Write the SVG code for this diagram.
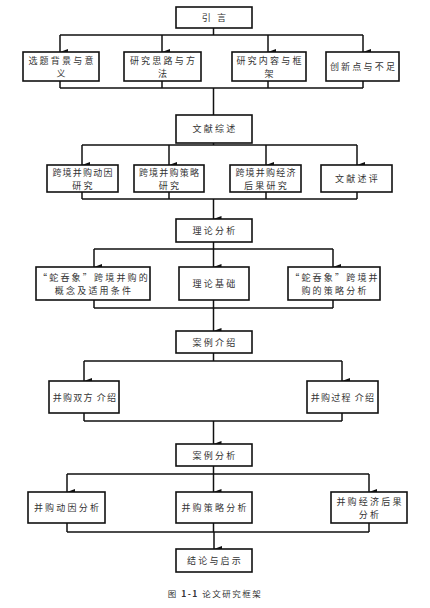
<svg xmlns="http://www.w3.org/2000/svg" width="430" height="608" viewBox="0 0 430 608">
<style>
.b{fill:#fff;stroke:#111;stroke-width:1.6}
.t{font-family:"Noto Sans CJK SC","Liberation Serif",serif;font-size:9px;fill:#333;text-anchor:middle;letter-spacing:2.2px}
.n{letter-spacing:1.2px}
.l{fill:none;stroke:#111;stroke-width:1.5}
.cap{font-family:"Noto Sans CJK SC","Liberation Serif",serif;font-size:8.5px;fill:#333;text-anchor:middle;letter-spacing:1.5px}
</style>
<defs>
<marker id="a" viewBox="0 0 6 8" refX="3" refY="8" markerWidth="6" markerHeight="8" markerUnits="userSpaceOnUse" orient="auto-start-reverse">
<path d="M0,0 L6,0 L3,8 Z" fill="#111"/>
</marker>
</defs>
<rect width="430" height="608" fill="#fff"/>
<g id="connectors">
<path class="l" d="M213.5,28 V35 M60,35 H363"/>
<path class="l" d="M60,35 V52" marker-end="url(#a)"/>
<path class="l" d="M162,35 V52" marker-end="url(#a)"/>
<path class="l" d="M268,35 V52" marker-end="url(#a)"/>
<path class="l" d="M363,35 V52" marker-end="url(#a)"/>
<path class="l" d="M60,81 V88 M162,81 V88 M268,81 V88 M363,81 V88 M60,88 H363 M213.5,88 V115"/>
<path class="l" d="M213.5,143 V145 M82,145 H357"/>
<path class="l" d="M82,145 V165" marker-end="url(#a)"/>
<path class="l" d="M169,145 V165" marker-end="url(#a)"/>
<path class="l" d="M266,145 V165" marker-end="url(#a)"/>
<path class="l" d="M357,145 V165" marker-end="url(#a)"/>
<path class="l" d="M82,192 V199 M169,192 V199 M266,192 V199 M357,192 V199 M82,199 H357"/>
<path class="l" d="M213.5,199 V219" marker-end="url(#a)"/>
<path class="l" d="M213.5,242 V249 M94,249 H333"/>
<path class="l" d="M94,249 V267" marker-end="url(#a)"/>
<path class="l" d="M213.5,249 V267" marker-end="url(#a)"/>
<path class="l" d="M333,249 V267" marker-end="url(#a)"/>
<path class="l" d="M94,300 V308 M213.5,300 V308 M333,300 V308 M94,308 H333"/>
<path class="l" d="M213.5,308 V331" marker-end="url(#a)"/>
<path class="l" d="M213.5,353 V361 M84,361 H342"/>
<path class="l" d="M84,361 V381" marker-end="url(#a)"/>
<path class="l" d="M342,361 V381" marker-end="url(#a)"/>
<path class="l" d="M84,413 V421 M342,413 V421 M84,421 H342"/>
<path class="l" d="M213.5,421 V444" marker-end="url(#a)"/>
<path class="l" d="M213.5,466 V474 M67,474 H369"/>
<path class="l" d="M67,474 V492" marker-end="url(#a)"/>
<path class="l" d="M213.5,474 V492" marker-end="url(#a)"/>
<path class="l" d="M369,474 V492" marker-end="url(#a)"/>
<path class="l" d="M67,523 V532 M369,523 V532 M67,532 H369 M213.5,523 V532"/>
<path class="l" d="M214,532 V549" marker-end="url(#a)"/>
</g>
<g id="n1"><rect class="b" x="176" y="7" width="76" height="21"/><text class="t" x="215" y="21">引 言</text></g>
<g id="n2"><rect class="b" x="23" y="52" width="76" height="29"/><text class="t" x="62" y="64">选题背景与意</text><text class="t" x="62" y="77">义</text></g>
<g id="n3"><rect class="b" x="124" y="52" width="77" height="29"/><text class="t" x="163.5" y="64">研究思路与方</text><text class="t" x="163.5" y="77">法</text></g>
<g id="n4"><rect class="b" x="232" y="52" width="74" height="29"/><text class="t" x="270" y="64">研究内容与框</text><text class="t" x="270" y="77">架</text></g>
<g id="n5"><rect class="b" x="326" y="52" width="73" height="29"/><text class="t" x="363.5" y="70">创新点与不足</text></g>
<g id="n6"><rect class="b" x="176" y="115" width="76" height="28"/><text class="t" x="215" y="132">文献综述</text></g>
<g id="n7"><rect class="b" x="47" y="165" width="71" height="27"/><text class="t n" x="83" y="176">跨境并购动因</text><text class="t" x="83.5" y="189">研究</text></g>
<g id="n8"><rect class="b" x="134" y="165" width="70" height="27"/><text class="t n" x="169.5" y="176">跨境并购策略</text><text class="t" x="170" y="189">研究</text></g>
<g id="n9"><rect class="b" x="230" y="165" width="71" height="27"/><text class="t n" x="266" y="176">跨境并购经济</text><text class="t" x="266.5" y="189">后果研究</text></g>
<g id="n10"><rect class="b" x="321" y="165" width="71" height="27"/><text class="t" x="357.5" y="182">文献述评</text></g>
<g id="n11"><rect class="b" x="176" y="219" width="76" height="23"/><text class="t" x="215" y="234">理论分析</text></g>
<g id="n12"><rect class="b" x="36" y="267" width="114" height="33"/><text class="t" x="94" y="281">“蛇吞象”跨境并购的</text><text class="t" x="94" y="294">概念及适用条件</text></g>
<g id="n13"><rect class="b" x="179" y="267" width="70" height="33"/><text class="t" x="215" y="287">理论基础</text></g>
<g id="n14"><rect class="b" x="288" y="267" width="92" height="33"/><text class="t" x="335" y="281">“蛇吞象”跨境并</text><text class="t" x="335" y="294">购的策略分析</text></g>
<g id="n15"><rect class="b" x="176" y="331" width="76" height="22"/><text class="t" x="215" y="345.5">案例介绍</text></g>
<g id="n16"><rect class="b" x="49" y="381" width="70" height="32"/><text class="t n" x="85" y="400.5">并购双方 介绍</text></g>
<g id="n17"><rect class="b" x="307" y="381" width="71" height="32"/><text class="t n" x="343" y="400.5">并购过程 介绍</text></g>
<g id="n18"><rect class="b" x="176" y="444" width="76" height="22"/><text class="t" x="215" y="458.5">案例分析</text></g>
<g id="n19"><rect class="b" x="28" y="492" width="77" height="31"/><text class="t" x="67.5" y="511">并购动因分析</text></g>
<g id="n20"><rect class="b" x="176" y="492" width="76" height="31"/><text class="t" x="215" y="511">并购策略分析</text></g>
<g id="n21"><rect class="b" x="331" y="492" width="76" height="31"/><text class="t" x="370" y="504.5">并购经济后果</text><text class="t" x="370" y="517.5">分析</text></g>
<g id="n22"><rect class="b" x="176" y="549" width="76" height="23"/><text class="t" x="215" y="564">结论与启示</text></g>
<text class="cap" x="215" y="597">图 <tspan font-weight="bold">1-1</tspan> 论文研究框架</text>
</svg>
